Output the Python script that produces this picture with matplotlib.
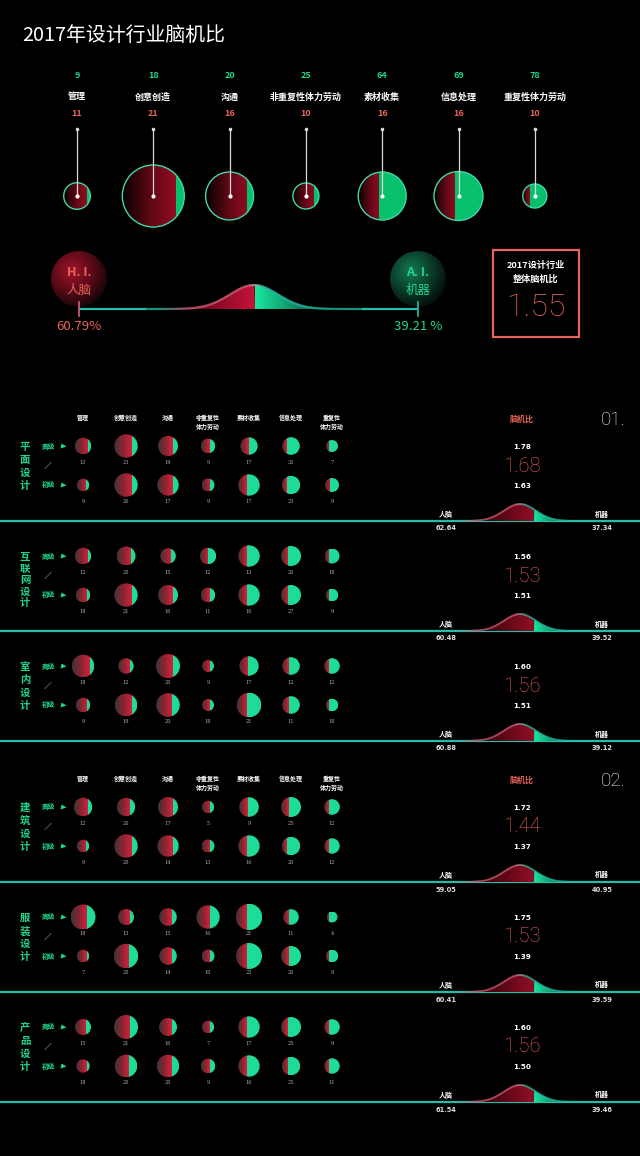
import numpy as np
import matplotlib
matplotlib.use("Agg")
import matplotlib.pyplot as plt
from matplotlib.patches import Circle, Rectangle, Polygon
from matplotlib.colors import LinearSegmentedColormap
from matplotlib.collections import LineCollection

plt.rcParams['font.family'] = ['Noto Sans CJK SC', 'DejaVu Sans']

# ---------------- data ----------------
tasks = ["管理", "创意创造", "沟通", "非重复性体力劳动", "素材收集", "信息处理", "重复性体力劳动"]
tasks_wrapped = ["管理", "创意创造", "沟通", "非重复性\n体力劳动", "素材收集", "信息处理", "重复性\n体力劳动"]
top_ai = [9, 18, 20, 25, 64, 69, 78]
top_human = [11, 21, 16, 10, 16, 16, 10]
top_size = [13.3, 31, 24, 13, 24, 24.5, 12]          # bubble radius
top_ai_width = [0.14, 0.13, 0.13, 0.18, 0.56, 0.57, 0.72]  # green share of bubble width
overall_human = 60.79
overall_machine = 39.21
overall_ratio = 1.55

jobs = ["平面设计", "互联网设计", "室内设计", "建筑设计", "服装设计", "产品设计"]
senior_num = [[13, 23, 19, 9, 17, 32, 7],
              [12, 20, 15, 12, 13, 26, 18],
              [18, 12, 20, 9, 17, 12, 12],
              [12, 20, 17, 5, 9, 25, 12],
              [18, 13, 15, 16, 21, 11, 4],
              [15, 21, 16, 7, 17, 25, 9]]
junior_num = [[9, 26, 17, 9, 17, 23, 9],
              [18, 21, 16, 11, 16, 27, 9],
              [9, 19, 20, 18, 21, 11, 18],
              [9, 20, 14, 13, 16, 20, 12],
              [7, 20, 14, 10, 22, 26, 9],
              [18, 20, 20, 9, 16, 25, 11]]
senior_size = [[8.3, 11.7, 10, 7.3, 8.7, 8.8, 6],
               [8.3, 9.5, 7.8, 8.2, 10.7, 10, 7.5],
               [11.3, 7.7, 12, 6, 9.7, 8.8, 7.8],
               [9.3, 9.2, 10, 6.2, 9.8, 10, 7.8],
               [12.5, 8, 8.8, 11.7, 13.2, 7.8, 5.5],
               [8, 12, 9, 6.2, 10.7, 10, 7.8]]
junior_size = [[6.3, 11.7, 10.7, 6.5, 10.7, 9.2, 7],
               [7.3, 11.7, 10, 7.3, 10.7, 10, 6.3],
               [7.3, 11.3, 11.8, 6, 12.3, 8.8, 6.3],
               [6.3, 11.7, 10.7, 6.5, 10.7, 9.2, 7.7],
               [6.3, 12.2, 8.8, 6.5, 13, 10, 6.3],
               [6.7, 11.3, 11.2, 7.3, 10.7, 9.2, 7.7]]
senior_ai = [[0.20, 0.23, 0.25, 0.39, 0.52, 0.72, 0.72],
             [0.20, 0.25, 0.28, 0.47, 0.58, 0.63, 0.67],
             [0.19, 0.24, 0.30, 0.36, 0.53, 0.62, 0.72],
             [0.21, 0.27, 0.27, 0.30, 0.56, 0.62, 0.70],
             [0.35, 0.25, 0.30, 0.40, 0.57, 0.62, 0.73],
             [0.29, 0.33, 0.28, 0.32, 0.58, 0.65, 0.72]]
junior_ai = [[0.26, 0.23, 0.27, 0.38, 0.58, 0.73, 0.64],
             [0.23, 0.23, 0.27, 0.39, 0.58, 0.63, 0.74],
             [0.20, 0.24, 0.31, 0.36, 0.57, 0.62, 0.74],
             [0.24, 0.23, 0.27, 0.38, 0.58, 0.73, 0.72],
             [0.21, 0.38, 0.30, 0.33, 0.56, 0.62, 0.74],
             [0.20, 0.37, 0.34, 0.39, 0.58, 0.65, 0.72]]
ratio_senior = [1.78, 1.56, 1.60, 1.72, 1.75, 1.60]
ratio_all = [1.68, 1.53, 1.56, 1.44, 1.53, 1.56]
ratio_junior = [1.63, 1.51, 1.51, 1.37, 1.39, 1.50]
human_pct = [62.64, 60.48, 60.88, 59.05, 60.41, 61.54]
machine_pct = [37.34, 39.52, 39.12, 40.95, 39.59, 39.46]

# ---------------- styles ----------------
SALMON = '#e8635c'
GREEN_TXT = '#1fd68a'
TEAL = '#22bfa6'
PINK = '#d8607a'
grad = np.linspace(0, 1, 256).reshape(1, -1)
top_red = LinearSegmentedColormap.from_list('tr', ['#050002', '#5a0714', '#930b22'])
sub_red = LinearSegmentedColormap.from_list('sr', ['#3b3535', '#8c2431', '#dc223b'])
bump_red_top = LinearSegmentedColormap.from_list('br', ['#3a000c', '#c8123a'])
bump_red = LinearSegmentedColormap.from_list('br2', ['#140003', '#920e26'])
bump_green = LinearSegmentedColormap.from_list('bg', ['#18e8a0', '#0b3a2d'])
curve_cmap = LinearSegmentedColormap.from_list(
    'cv', [(0, TEAL), (0.15, PINK), (0.45, PINK), (0.5, '#b8a8aa'), (0.56, TEAL), (1, TEAL)])

fig = plt.figure(figsize=(6.4, 11.56), dpi=100, facecolor='black')
ax = fig.add_axes([0, 0, 1, 1])
ax.set_facecolor('black')


def bubble(cx, cy, r, ai_width, cmap, green, edge=None):
    clip = Circle((cx, cy), r, facecolor='none', edgecolor=edge if edge else 'none',
                  lw=1.0 if edge else 0, zorder=4)
    ax.add_patch(clip)
    split = cx + r - 2 * r * ai_width
    im = ax.imshow(grad, cmap=cmap, extent=(cx - r, split, cy + r, cy - r),
                   aspect='auto', interpolation='bilinear', zorder=3)
    im.set_clip_path(clip)
    g = Rectangle((split, cy - r), cx + r - split, 2 * r, facecolor=green, edgecolor='none', zorder=3)
    ax.add_patch(g)
    g.set_clip_path(clip)


def bump(xc, yb, amp, sigma, split, x0, x1, lw, red_cmap):
    xs = np.linspace(x0, x1, 600)
    ys = yb - amp * np.exp(-0.5 * ((xs - xc) / sigma) ** 2)
    xa = xc - 3.5 * sigma
    xb = xc + 3.2 * sigma
    m = (xs >= xa) & (xs <= split)
    pr = Polygon(np.column_stack([np.r_[xs[m], split, xa], np.r_[ys[m], yb, yb]]),
                 facecolor='none', edgecolor='none')
    ax.add_patch(pr)
    im = ax.imshow(grad, cmap=red_cmap, extent=(xa, split, yb, yb - amp), aspect='auto',
                   interpolation='bilinear', zorder=3)
    im.set_clip_path(pr)
    m = (xs >= split) & (xs <= xb)
    pg = Polygon(np.column_stack([np.r_[split, xs[m], xb], np.r_[yb, ys[m], yb]]),
                 facecolor='none', edgecolor='none')
    ax.add_patch(pg)
    im = ax.imshow(grad, cmap=bump_green, extent=(split, xb, yb, yb - amp), aspect='auto',
                   interpolation='bilinear', zorder=3)
    im.set_clip_path(pg)
    pts = np.column_stack([xs, ys]).reshape(-1, 1, 2)
    segs = np.concatenate([pts[:-1], pts[1:]], axis=1)
    u = np.clip(((xs[:-1] - xc) / sigma + 4) / 8, 0, 1)
    ax.add_collection(LineCollection(segs, colors=curve_cmap(u), linewidths=lw, zorder=5))


# ---------------- title ----------------
ax.text(22, 35, "2017年设计行业脑机比", color='white', fontsize=14.3, ha='left', va='center')

# ---------------- top bubbles ----------------
top_x = 77 + 76.3 * np.arange(len(tasks))
top_cy = 196
for i, t in enumerate(tasks):
    x = top_x[i]
    ax.text(x, 76, str(top_ai[i]), color=GREEN_TXT, fontsize=6.5, weight='bold', ha='center', va='center')
    ax.text(x, 97, t, color='white', fontsize=6.5, weight='bold', ha='center', va='center')
    ax.text(x, 114, str(top_human[i]), color=SALMON, fontsize=6.5, weight='bold', ha='center', va='center')
    bubble(x, top_cy, top_size[i], top_ai_width[i], top_red, '#06c06b', edge='#3fd8aa')
    ax.plot([x, x], [129, top_cy], color='#d8d8d8', lw=0.9, zorder=6)
    ax.plot([x], [129], marker='o', ms=1.6, color='#d8d8d8', zorder=6)
    ax.plot([x], [top_cy], marker='o', ms=2.0, color='white', zorder=6)

# ---------------- overall curve ----------------
hx, mx, base_y = 79, 418, 309
for cx, face, ctr, t1, t2, col in [(hx, '#5a0a16', '#a0142c', 'H. I.', '人脑', SALMON),
                                   (mx, '#0a3d2a', '#137a52', 'A. I.', '机器', GREEN_TXT)]:
    c = Circle((cx, 279), 28, facecolor='none', edgecolor='none')
    ax.add_patch(c)
    yy, xx = np.mgrid[-1:1:100j, -1:1:100j]
    rr = np.sqrt((xx + 0.25) ** 2 + (yy + 0.3) ** 2)
    cm = LinearSegmentedColormap.from_list('g', [ctr, face, '#050505'])
    im = ax.imshow(np.clip(rr / 1.5, 0, 1), cmap=cm, vmin=0, vmax=1,
                   extent=(cx - 28, cx + 28, 279 + 28, 279 - 28), aspect='auto', zorder=2)
    im.set_clip_path(c)
    ax.text(cx, 272, t1, color=col, fontsize=9, weight='bold', ha='center', va='center', zorder=6)
    ax.text(cx, 290, t2, color=col, fontsize=9, ha='center', va='center', zorder=6)

bump(254, base_y, 24, 24, 255, hx, mx, 1.6, bump_red_top)
ax.plot([hx, hx], [302, 316], color=PINK, lw=1.2, zorder=6)
ax.plot([mx, mx], [302, 316], color=TEAL, lw=1.2, zorder=6)
ax.text(hx, 327, f"{overall_human:.2f}%", color=SALMON, fontsize=9.5, ha='center', va='center')
ax.text(mx, 327, f"{overall_machine:.2f} %", color=GREEN_TXT, fontsize=9.5, ha='center', va='center')

ax.add_patch(Rectangle((492.5, 249.5), 86, 87, facecolor='none', edgecolor=SALMON, lw=1.6))
ax.text(535.5, 265, "2017设计行业", color='white', fontsize=6.6, weight='bold', ha='center', va='center')
ax.text(535.5, 279, "整体脑机比", color='white', fontsize=6.6, weight='bold', ha='center', va='center')
ax.text(535.5, 307, f"{overall_ratio:.2f}", color=SALMON, fontsize=23, ha='center', va='center',
        family=['Roboto', 'DejaVu Sans'], weight='light')

# ---------------- job panels ----------------
col_x = [83, 126, 168, 208, 249, 291, 332]
panel_base = [521, 631, 741, 882, 992, 1102]
for p, job in enumerate(jobs):
    yb = panel_base[p]
    rows = [yb - 75, yb - 36]
    ax.plot([0, 640], [yb, yb], color=TEAL, lw=1.6, zorder=2)
    if p % 3 == 0:
        for i, lab in enumerate(tasks_wrapped):
            ax.text(col_x[i], yb - 107, lab, color='white', fontsize=4.3, weight='bold',
                    ha='center', va='top', linespacing=1.35)
        ax.text(522, yb - 102, "脑机比", color=SALMON, fontsize=5.8, weight='bold', ha='center', va='center')
        ax.text(613, yb - 101, f"0{p // 3 + 1}.", color='white', fontsize=13.5, ha='center', va='center',
                family=['Roboto', 'DejaVu Sans'], weight='light')
    # vertical job label
    step = 11.5 if len(job) == 5 else (rows[1] - rows[0]) / 3
    for k, ch in enumerate(job):
        ax.text(25, rows[0] + 1 + k * step, ch, color=GREEN_TXT, fontsize=7.5, weight='bold',
                ha='center', va='center')
    for r_i, (lev, nums, sizes, ais) in enumerate([("高级", senior_num[p], senior_size[p], senior_ai[p]),
                                                   ("初级", junior_num[p], junior_size[p], junior_ai[p])]):
        y = rows[r_i]
        ax.text(48, y, lev, color=GREEN_TXT, fontsize=4.8, weight='bold', ha='center', va='center')
        ax.plot([62.5], [y], marker='>', ms=3.6, color=GREEN_TXT, mec='none')
        for i in range(len(tasks)):
            bubble(col_x[i], y, sizes[i], ais[i], sub_red, '#1ddc98')
            ax.text(col_x[i], y + 16.5, str(nums[i]), color='#b0b0b0', fontsize=3.6,
                    ha='center', va='center', family=['DejaVu Serif'])
    ax.plot([45, 51], [(rows[0] + rows[1]) / 2 + 3, (rows[0] + rows[1]) / 2 - 3],
            color='#3e524c', lw=0.8)
    # ratio column
    ax.text(522, yb - 74, f"{ratio_senior[p]:.2f}", color='white', fontsize=5.2, weight='bold',
            ha='center', va='center', family=['DejaVu Sans'])
    ax.text(522, yb - 55, f"{ratio_all[p]:.2f}", color=SALMON, fontsize=14.5, ha='center', va='center',
            family=['Roboto', 'DejaVu Sans'], weight='light')
    ax.text(522, yb - 35, f"{ratio_junior[p]:.2f}", color='white', fontsize=5.2, weight='bold',
            ha='center', va='center', family=['DejaVu Sans'])
    bump(520, yb, 17, 16, 534, 400, 640, 1.3, bump_red)
    ax.text(446, yb - 7, "人脑", color='white', fontsize=5, weight='bold', ha='center', va='center')
    ax.text(602, yb - 7, "机器", color='white', fontsize=5, weight='bold', ha='center', va='center')
    ax.text(446, yb + 7.5, f"{human_pct[p]:.2f}", color='#dddddd', fontsize=4.8, weight='bold',
            ha='center', va='center', family=['DejaVu Sans'])
    ax.text(602, yb + 7.5, f"{machine_pct[p]:.2f}", color='#dddddd', fontsize=4.8, weight='bold',
            ha='center', va='center', family=['DejaVu Sans'])

ax.set_xlim(0, 640)
ax.set_ylim(1156, 0)
ax.set_aspect('auto')
ax.axis('off')
fig.savefig("out.png", dpi=100, facecolor='black')
